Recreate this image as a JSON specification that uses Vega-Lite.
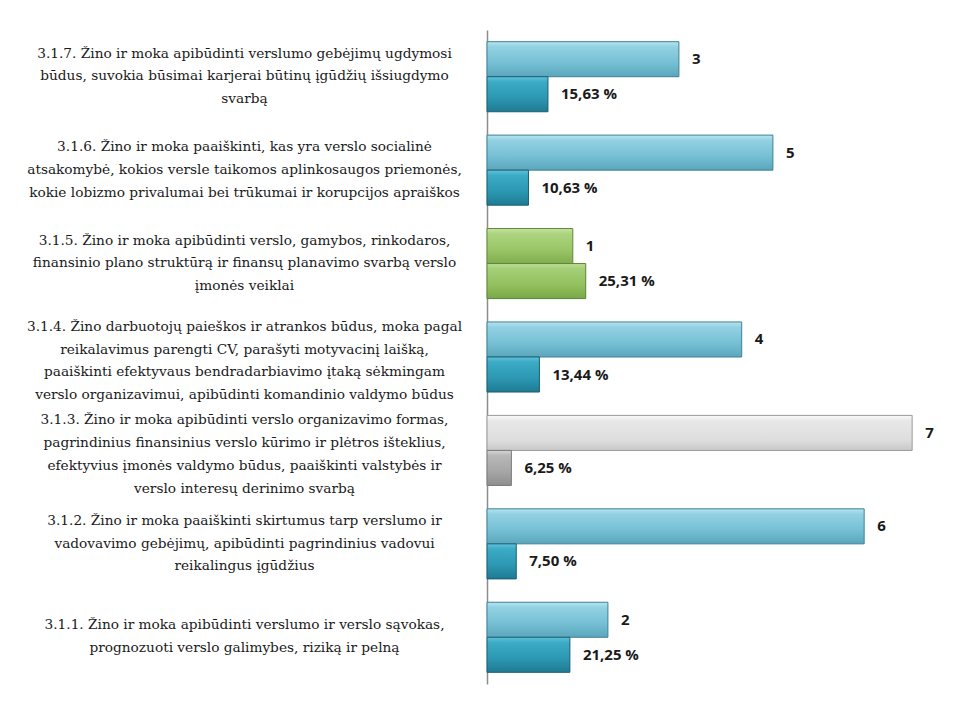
{
  "$schema": "https://vega.github.io/schema/vega-lite/v6.json",
  "width": 470,
  "height": 654,
  "autosize": {"type": "none"},
  "padding": {"left": 487, "top": 30, "right": 8, "bottom": 19},
  "background": "white",
  "config": {"view": {"stroke": null}},
  "data": {
    "values": [
      {"item": "3.1.7. Žino ir moka apibūdinti verslumo gebėjimų ugdymosi\nbūdus, suvokia būsimai karjerai būtinų įgūdžių išsiugdymo\nsvarbą", "code": "3.1.7", "series": "rank", "value": 49.2, "label": "3"},
      {"item": "3.1.7. Žino ir moka apibūdinti verslumo gebėjimų ugdymosi\nbūdus, suvokia būsimai karjerai būtinų įgūdžių išsiugdymo\nsvarbą", "code": "3.1.7", "series": "percent", "value": 15.63, "label": "15,63 %"},
      {"item": "3.1.6. Žino ir moka paaiškinti, kas yra verslo socialinė\natsakomybė, kokios versle taikomos aplinkosaugos priemonės,\nkokie lobizmo privalumai bei trūkumai ir korupcijos apraiškos", "code": "3.1.6", "series": "rank", "value": 73.3, "label": "5"},
      {"item": "3.1.6. Žino ir moka paaiškinti, kas yra verslo socialinė\natsakomybė, kokios versle taikomos aplinkosaugos priemonės,\nkokie lobizmo privalumai bei trūkumai ir korupcijos apraiškos", "code": "3.1.6", "series": "percent", "value": 10.63, "label": "10,63 %"},
      {"item": "3.1.5. Žino ir moka apibūdinti verslo, gamybos, rinkodaros,\nfinansinio plano struktūrą ir finansų planavimo svarbą verslo\nįmonės veiklai", "code": "3.1.5", "series": "rank", "value": 22, "label": "1"},
      {"item": "3.1.5. Žino ir moka apibūdinti verslo, gamybos, rinkodaros,\nfinansinio plano struktūrą ir finansų planavimo svarbą verslo\nįmonės veiklai", "code": "3.1.5", "series": "percent", "value": 25.31, "label": "25,31 %"},
      {"item": "3.1.4. Žino darbuotojų paieškos ir atrankos būdus, moka pagal\nreikalavimus parengti CV, parašyti motyvacinį laišką,\npaaiškinti efektyvaus bendradarbiavimo įtaką sėkmingam\nverslo organizavimui, apibūdinti komandinio valdymo būdus", "code": "3.1.4", "series": "rank", "value": 65.3, "label": "4"},
      {"item": "3.1.4. Žino darbuotojų paieškos ir atrankos būdus, moka pagal\nreikalavimus parengti CV, parašyti motyvacinį laišką,\npaaiškinti efektyvaus bendradarbiavimo įtaką sėkmingam\nverslo organizavimui, apibūdinti komandinio valdymo būdus", "code": "3.1.4", "series": "percent", "value": 13.44, "label": "13,44 %"},
      {"item": "3.1.3. Žino ir moka apibūdinti verslo organizavimo formas,\npagrindinius finansinius verslo kūrimo ir plėtros išteklius,\nefektyvius įmonės valdymo būdus, paaiškinti valstybės ir\nverslo interesų derinimo svarbą", "code": "3.1.3", "series": "rank", "value": 109, "label": "7"},
      {"item": "3.1.3. Žino ir moka apibūdinti verslo organizavimo formas,\npagrindinius finansinius verslo kūrimo ir plėtros išteklius,\nefektyvius įmonės valdymo būdus, paaiškinti valstybės ir\nverslo interesų derinimo svarbą", "code": "3.1.3", "series": "percent", "value": 6.25, "label": "6,25 %"},
      {"item": "3.1.2. Žino ir moka paaiškinti skirtumus tarp verslumo ir\nvadovavimo gebėjimų, apibūdinti pagrindinius vadovui\nreikalingus įgūdžius", "code": "3.1.2", "series": "rank", "value": 96.7, "label": "6"},
      {"item": "3.1.2. Žino ir moka paaiškinti skirtumus tarp verslumo ir\nvadovavimo gebėjimų, apibūdinti pagrindinius vadovui\nreikalingus įgūdžius", "code": "3.1.2", "series": "percent", "value": 7.5, "label": "7,50 %"},
      {"item": "3.1.1. Žino ir moka apibūdinti verslumo ir verslo sąvokas,\nprognozuoti verslo galimybes, riziką ir pelną", "code": "3.1.1", "series": "rank", "value": 31, "label": "2"},
      {"item": "3.1.1. Žino ir moka apibūdinti verslumo ir verslo sąvokas,\nprognozuoti verslo galimybes, riziką ir pelną", "code": "3.1.1", "series": "percent", "value": 21.25, "label": "21,25 %"}
    ]
  },
  "encoding": {
    "y": {
      "field": "item", "type": "nominal", "sort": "descending",
      "scale": {"paddingInner": 0.25, "paddingOuter": 0.125},
      "axis": {
        "title": null, "ticks": false, "domainColor": "#8c8c8c", "domainWidth": 1.5,
        "labelExpr": "split(datum.value, '\\n')",
        "labelAlign": "center", "labelPadding": 243, "labelLimit": 0,
        "labelFont": "DejaVu Serif", "labelFontSize": 13.7, "labelColor": "#1a1a1a",
        "labelLineHeight": 22.7, "labelBaseline": "middle",
        "labelOffset": {"condition": [
          {"test": "length(split(datum.value, '\\n')) == 4", "value": -30},
          {"test": "length(split(datum.value, '\\n')) == 2", "value": -12}
        ], "value": -23}
      }
    },
    "yOffset": {"field": "series", "type": "nominal", "sort": ["rank", "percent"], "scale": {"paddingInner": 0, "paddingOuter": 0}},
    "x": {"field": "value", "type": "quantitative", "scale": {"domain": [0, 120.5], "nice": false, "zero": true}, "axis": null}
  },
  "layer": [
    {
      "transform": [{"filter": "datum.series == 'rank' && datum.code != '3.1.5' && datum.code != '3.1.3'"}],
      "mark": {"type": "bar", "stroke": "#3d8194", "strokeWidth": 1,
        "fill": {"gradient": "linear", "x1": 0, "y1": 0, "x2": 0, "y2": 1, "stops": [
          {"offset": 0, "color": "#b8e5f0"}, {"offset": 0.15, "color": "#92d1e2"}, {"offset": 0.6, "color": "#76c0d5"}, {"offset": 1, "color": "#5ba6bc"}]}}
    },
    {
      "transform": [{"filter": "datum.series == 'percent' && datum.code != '3.1.5' && datum.code != '3.1.3'"}],
      "mark": {"type": "bar", "stroke": "#1b5f70", "strokeWidth": 1,
        "fill": {"gradient": "linear", "x1": 0, "y1": 0, "x2": 0, "y2": 1, "stops": [
          {"offset": 0, "color": "#62c2da"}, {"offset": 0.15, "color": "#3cabc6"}, {"offset": 0.6, "color": "#2c98b3"}, {"offset": 1, "color": "#1f7a93"}]}}
    },
    {
      "transform": [{"filter": "datum.series == 'rank' && datum.code == '3.1.5'"}],
      "mark": {"type": "bar", "stroke": "#5f8a3a", "strokeWidth": 1,
        "fill": {"gradient": "linear", "x1": 0, "y1": 0, "x2": 0, "y2": 1, "stops": [
          {"offset": 0, "color": "#c8e3a4"}, {"offset": 0.15, "color": "#acd480"}, {"offset": 0.6, "color": "#9ac667"}, {"offset": 1, "color": "#80ad4e"}]}}
    },
    {
      "transform": [{"filter": "datum.series == 'percent' && datum.code == '3.1.5'"}],
      "mark": {"type": "bar", "stroke": "#5a8436", "strokeWidth": 1,
        "fill": {"gradient": "linear", "x1": 0, "y1": 0, "x2": 0, "y2": 1, "stops": [
          {"offset": 0, "color": "#c0de98"}, {"offset": 0.15, "color": "#a5cf77"}, {"offset": 0.6, "color": "#93c15f"}, {"offset": 1, "color": "#7aa849"}]}}
    },
    {
      "transform": [{"filter": "datum.series == 'rank' && datum.code == '3.1.3'"}],
      "mark": {"type": "bar", "stroke": "#9a9a9a", "strokeWidth": 1,
        "fill": {"gradient": "linear", "x1": 0, "y1": 0, "x2": 0, "y2": 1, "stops": [
          {"offset": 0, "color": "#fafafa"}, {"offset": 0.15, "color": "#e8e8e8"}, {"offset": 0.7, "color": "#dedede"}, {"offset": 1, "color": "#c8c8c8"}]}}
    },
    {
      "transform": [{"filter": "datum.series == 'percent' && datum.code == '3.1.3'"}],
      "mark": {"type": "bar", "stroke": "#7a7a7a", "strokeWidth": 1,
        "fill": {"gradient": "linear", "x1": 0, "y1": 0, "x2": 0, "y2": 1, "stops": [
          {"offset": 0, "color": "#d6d6d6"}, {"offset": 0.15, "color": "#b8b8b8"}, {"offset": 0.6, "color": "#a6a6a6"}, {"offset": 1, "color": "#8e8e8e"}]}}
    },
    {
      "mark": {"type": "text", "align": "left", "baseline": "middle", "dx": 13, "font": "Open Sans", "fontWeight": "bold", "fontSize": 15, "color": "#1a1a1a"},
      "encoding": {"text": {"field": "label", "type": "nominal"}}
    }
  ]
}
